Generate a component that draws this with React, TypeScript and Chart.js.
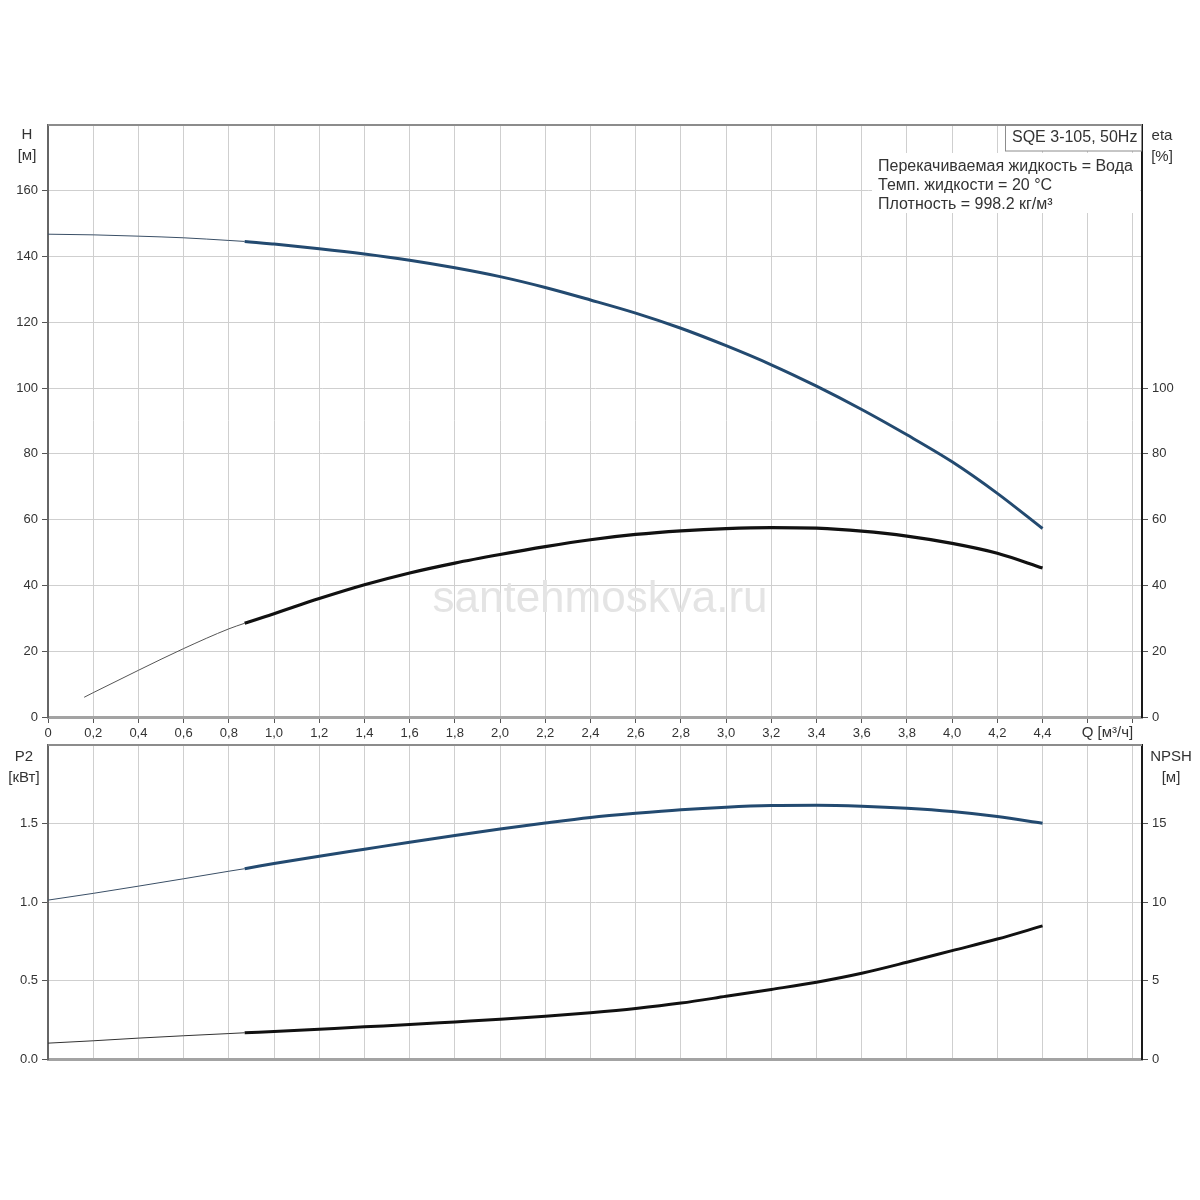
import { useEffect, useRef } from "react";
import { Chart, registerables } from "chart.js";
import type { ChartConfiguration, Plugin } from "chart.js";

Chart.register(...registerables);

const FONT = '"Liberation Sans", Arial, sans-serif';

// flow points shared by H, P2 and NPSH curves [m3/h]
const flowQ = [
  0, 0.2, 0.4, 0.6, 0.8, 0.87, 1.0, 1.2, 1.4, 1.6, 1.8, 2.0, 2.2, 2.4, 2.6,
  2.8, 3.0, 3.2, 3.4, 3.6, 3.8, 4.0, 4.2, 4.4,
];
const headH = [
  146.8, 146.6, 146.2, 145.7, 144.9, 144.6, 143.8, 142.4, 140.8, 138.9, 136.6,
  133.9, 130.6, 126.8, 122.8, 118.2, 112.9, 107.1, 100.6, 93.5, 85.8, 77.6,
  68.0, 57.3,
];
const powerP2 = [
  1.012, 1.055, 1.101, 1.148, 1.196, 1.212, 1.245, 1.291, 1.336, 1.381, 1.424,
  1.465, 1.503, 1.538, 1.565, 1.588, 1.604, 1.614, 1.616, 1.61, 1.597, 1.576,
  1.544, 1.502,
];
const npshM = [
  1.01, 1.16, 1.33, 1.48, 1.62, 1.67, 1.75, 1.9, 2.05, 2.19, 2.36, 2.53, 2.72,
  2.95, 3.22, 3.56, 3.99, 4.43, 4.89, 5.46, 6.16, 6.9, 7.64, 8.48,
];

// efficiency starts a bit later
const effQ = [
  0.16, 0.2, 0.4, 0.6, 0.8, 0.87, 1.0, 1.2, 1.4, 1.6, 1.8, 2.0, 2.2, 2.4, 2.6,
  2.8, 3.0, 3.2, 3.4, 3.6, 3.8, 4.0, 4.2, 4.4,
];
const effEta = [
  6.0, 7.4, 14.2, 20.8, 26.8, 28.5, 31.4, 36.0, 40.2, 43.8, 46.8, 49.4, 51.8,
  53.9, 55.5, 56.6, 57.3, 57.6, 57.4, 56.5, 55.0, 52.8, 49.8, 45.3,
];

// curve is drawn thin below this flow
const dutyStart = 0.87;

const flowMax = 4.84;
const flowLabelMax = 4.4;
const flowUnitAt = 4.6;

const pumpName = "SQE 3-105, 50Hz";
const infoLines = [
  "Перекачиваемая жидкость = Вода",
  "Темп. жидкости = 20 °C",
  "Плотность = 998.2 кг/м³",
];
const hTitle = ["H", "[м]"];
const etaTitle = ["eta", "[%]"];
const p2Title = ["P2", "[кВт]"];
const npshTitle = ["NPSH", "[м]"];
const flowTitle = "Q [м³/ч]";
const watermark = "santehmoskva.ru";

const BLUE = "#234a70";
const BLACK = "#111111";
const GRID = "#cfcfcf";
const TEXT = "#333333";

function pts(xs: number[], ys: number[]) {
  return xs.map((x, i) => ({ x, y: ys[i] }));
}

function flowLabel(v: number) {
  if (v > flowLabelMax + 0.01) return "";
  if (Math.abs(v) < 1e-6) return "0";
  return v.toFixed(1).replace(".", ",");
}

function drawTitle(ctx: CanvasRenderingContext2D, lines: string[], x: number, y: number) {
  ctx.fillStyle = TEXT;
  ctx.font = `15px ${FONT}`;
  ctx.textAlign = "center";
  ctx.textBaseline = "middle";
  lines.forEach((t, i) => ctx.fillText(t, x, y + i * 21));
}

const topDecor: Plugin = {
  id: "topDecor",
  beforeDatasetsDraw(chart) {
    const { ctx } = chart;
    ctx.save();
    ctx.fillStyle = "#e4e4e4";
    ctx.font = `44px ${FONT}`;
    ctx.textAlign = "center";
    ctx.textBaseline = "middle";
    ctx.fillText(watermark, 600, 600);
    ctx.restore();
  },
  afterDraw(chart) {
    const { ctx, chartArea: a } = chart;
    ctx.save();
    ctx.strokeStyle = "#8c8c8c";
    ctx.lineWidth = 2;
    ctx.beginPath();
    ctx.moveTo(a.left, a.top);
    ctx.lineTo(a.right, a.top);
    ctx.stroke();

    // info block
    ctx.fillStyle = "#ffffff";
    ctx.fillRect(a.right - 270, a.top + 28, 268, 60);
    ctx.fillStyle = TEXT;
    ctx.font = `16px ${FONT}`;
    ctx.textAlign = "left";
    ctx.textBaseline = "middle";
    infoLines.forEach((t, i) => ctx.fillText(t, a.right - 264, a.top + 42 + i * 19));

    // pump name box
    ctx.fillStyle = "#ffffff";
    ctx.fillRect(a.right - 136, a.top, 136, 26);
    ctx.strokeStyle = "#8c8c8c";
    ctx.lineWidth = 1;
    ctx.strokeRect(a.right - 136.5, a.top + 0.5, 136, 25.5);
    ctx.fillStyle = TEXT;
    ctx.font = `16px ${FONT}`;
    ctx.fillText(pumpName, a.right - 130, a.top + 13);

    drawTitle(ctx, hTitle, 27, a.top + 10);
    drawTitle(ctx, etaTitle, 1162, a.top + 11);

    const xs = chart.scales.x;
    ctx.fillStyle = TEXT;
    ctx.font = `15px ${FONT}`;
    ctx.textAlign = "left";
    ctx.textBaseline = "middle";
    ctx.fillText(flowTitle, xs.getPixelForValue(flowUnitAt) - 6, a.bottom + 16);
    ctx.restore();
  },
};

const bottomDecor: Plugin = {
  id: "bottomDecor",
  afterDraw(chart) {
    const { ctx, chartArea: a } = chart;
    ctx.save();
    ctx.strokeStyle = "#8c8c8c";
    ctx.lineWidth = 2;
    ctx.beginPath();
    ctx.moveTo(a.left, a.top);
    ctx.lineTo(a.right, a.top);
    ctx.stroke();
    drawTitle(ctx, p2Title, 24, a.top + 12);
    drawTitle(ctx, npshTitle, 1171, a.top + 12);
    ctx.restore();
  },
};

const tickFont = { family: FONT, size: 13 };

function xAxis(showTicks: boolean) {
  return {
    type: "linear" as const,
    min: 0,
    max: flowMax,
    afterFit: (s: any) => {
      s.height = showTicks ? 23 : 0;
    },
    border: { color: "#a3a3a3", width: 3 },
    grid: {
      color: GRID,
      drawTicks: showTicks,
      tickLength: 6,
      tickColor: "#555555",
    },
    ticks: {
      display: showTicks,
      stepSize: 0.2,
      includeBounds: false,
      autoSkip: false,
      maxRotation: 0,
      padding: 3,
      color: TEXT,
      font: tickFont,
      callback: (v: any) => flowLabel(Number(v)),
    },
  };
}

function yAxis(
  position: "left" | "right",
  max: number,
  step: number,
  lastLabel: number,
  fmt: (v: number) => string,
  borderColor: string,
) {
  return {
    type: "linear" as const,
    position,
    min: 0,
    max,
    afterFit: (s: any) => {
      s.width = position === "left" ? 48 : 58;
    },
    border: { color: borderColor, width: 2 },
    grid: {
      color: GRID,
      drawOnChartArea: position === "left",
      tickLength: 6,
      tickColor: (c: any) =>
        c.tick && c.tick.value > lastLabel + 1e-6 ? "rgba(0,0,0,0)" : "#555555",
    },
    ticks: {
      stepSize: step,
      padding: 4,
      color: TEXT,
      font: tickFont,
      callback: (v: any) => (Number(v) > lastLabel + 1e-6 ? "" : fmt(Number(v))),
    },
  };
}

function curve(label: string, data: { x: number; y: number }[], color: string, thin: string, width: number, yAxisID: string) {
  return {
    label,
    data,
    yAxisID,
    borderColor: color,
    borderWidth: width,
    pointRadius: 0,
    cubicInterpolationMode: "monotone" as const,
    segment: {
      borderWidth: (c: any) => (c.p0.parsed.x < dutyStart - 1e-6 ? 1 : width),
      borderColor: (c: any) => (c.p0.parsed.x < dutyStart - 1e-6 ? thin : color),
    },
  };
}

function PumpCurves() {
  const topRef = useRef<HTMLCanvasElement>(null);
  const bottomRef = useRef<HTMLCanvasElement>(null);

  useEffect(() => {
    if (!topRef.current || !bottomRef.current) return;

    const topConfig: ChartConfiguration = {
      type: "line",
      data: {
        datasets: [
          curve("H", pts(flowQ, headH), BLUE, "#3a4f66", 3, "yH"),
          curve("eta", pts(effQ, effEta), BLACK, "#555555", 3.2, "yEta"),
        ] as any,
      },
      options: {
        responsive: false,
        animation: false,
        layout: { padding: { top: 125, left: 0, right: 0, bottom: 0 } },
        plugins: { legend: { display: false }, tooltip: { enabled: false } },
        scales: {
          x: xAxis(true),
          yH: yAxis("left", 180, 20, 160, (v) => String(v), "#666666"),
          yEta: yAxis("right", 180, 20, 100, (v) => String(v), "#1a1a1a"),
        } as any,
      },
      plugins: [topDecor],
    };

    const bottomConfig: ChartConfiguration = {
      type: "line",
      data: {
        datasets: [
          curve("P2", pts(flowQ, powerP2), BLUE, "#3a4f66", 3, "yP2"),
          curve("NPSH", pts(flowQ, npshM), BLACK, "#333333", 3, "yNpsh"),
        ] as any,
      },
      options: {
        responsive: false,
        animation: false,
        layout: { padding: { top: 20, left: 0, right: 0, bottom: 141 } },
        plugins: { legend: { display: false }, tooltip: { enabled: false } },
        scales: {
          x: xAxis(false),
          yP2: yAxis("left", 2, 0.5, 1.5, (v) => v.toFixed(1), "#666666"),
          yNpsh: yAxis("right", 20, 5, 15, (v) => String(v), "#1a1a1a"),
        } as any,
      },
      plugins: [bottomDecor],
    };

    const top = new Chart(topRef.current, topConfig);
    const bottom = new Chart(bottomRef.current, bottomConfig);

    return () => {
      top.destroy();
      bottom.destroy();
    };
  }, []);

  return (
    <div
      style={{
        position: "absolute",
        left: 0,
        top: 0,
        width: 1200,
        height: 1200,
        background: "#ffffff",
      }}
    >
      <canvas
        ref={topRef}
        width={1200}
        height={740}
        style={{ position: "absolute", left: 0, top: 0 }}
      />
      <canvas
        ref={bottomRef}
        width={1200}
        height={475}
        style={{ position: "absolute", left: 0, top: 725 }}
      />
    </div>
  );
}

export default function App() {
  return <PumpCurves />;
}
